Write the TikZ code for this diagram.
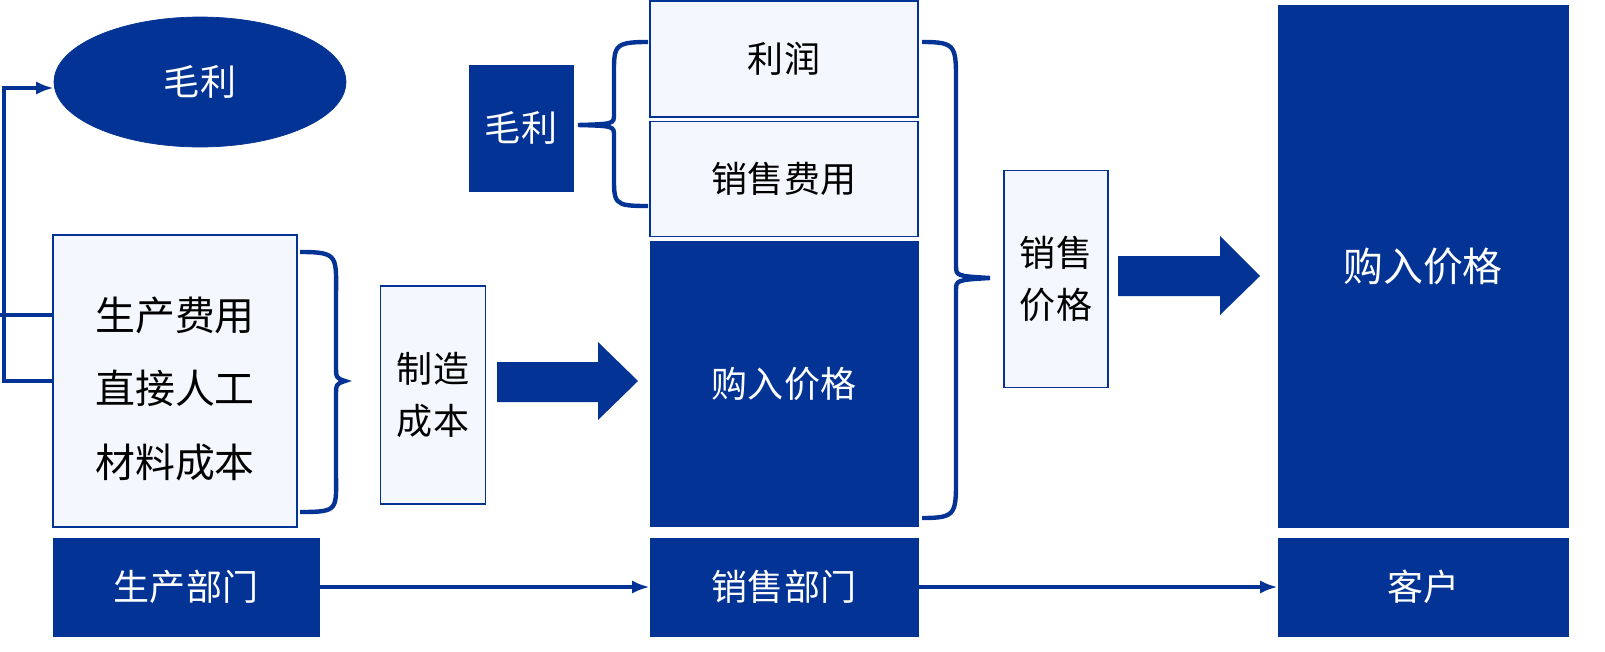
\documentclass[tikz,border=0pt]{standalone}
\usepackage{fontspec}
\setmainfont{Noto Sans CJK SC}
\usetikzlibrary{shapes.geometric,arrows.meta}
\definecolor{db}{HTML}{023395}
\definecolor{lb}{HTML}{F4F7FD}
\begin{document}
\begin{tikzpicture}[x=0.02cm,y=-0.02cm,
 dark/.style={fill=db,draw=db,text=white,inner sep=0pt,font=\fontsize{20.5}{24}\selectfont},
 light/.style={fill=lb,draw=db,line width=1pt,inner sep=0pt,text=black,font=\fontsize{20.5}{24}\selectfont},
 big/.style={font=\fontsize{22.7}{26}\selectfont},
 br/.style={draw=db,line width=2.5pt},
 ln/.style={draw=db,line width=2pt},
 fat/.style={fill=db}]
\useasboundingbox (0,0) rectangle (1605,652);
\node[dark,ellipse,minimum width=5.84cm,minimum height=2.6cm] (gm) at (200,82) {毛利};
\node[light,minimum width=4.88cm,minimum height=5.84cm] (pc) at (175,381) {};
\node[big] (t1) at (175,315) {生产费用};
\node[big] (t2) at (175,388) {直接人工};
\node[big] (t3) at (175,462) {材料成本};
\node[light,minimum width=2.1cm,minimum height=4.36cm,align=center,font=\fontsize{20.5}{30}\selectfont] (zz) at (433,395) {制造\\成本};
\node[dark,minimum width=5.36cm,minimum height=5.7cm] (gr1) at (784,384) {购入价格};
\node[light,minimum width=5.36cm,minimum height=2.32cm] (lr) at (784,59) {利润};
\node[light,minimum width=5.36cm,minimum height=2.3cm] (xs) at (784,179) {销售费用};
\node[dark,minimum width=2.08cm,minimum height=2.52cm] (gm2) at (521,128) {毛利};
\node[light,minimum width=2.08cm,minimum height=4.34cm,align=center,font=\fontsize{20.5}{30}\selectfont] (xj) at (1056,279) {销售\\价格};
\node[dark,minimum width=5.8cm,minimum height=10.44cm,big] (gr2) at (1423,266) {购入价格};
\node[dark,minimum width=5.32cm,minimum height=1.96cm] (sc) at (186,587) {生产部门};
\node[dark,minimum width=5.36cm,minimum height=1.96cm] (xb) at (784,587) {销售部门};
\node[dark,minimum width=5.8cm,minimum height=1.96cm] (kh) at (1423,587) {客户};
% braces
\draw[br] (300,252) .. controls (340,252) and (336,256) .. (336,300) -- (336,365) .. controls (336,378) .. (345,381) .. controls (336,384) .. (336,397) -- (336,470) .. controls (336,510) and (340,512) .. (300,512);
\draw[br] (648,42) .. controls (612,42) and (614,46) .. (614,80) -- (614,114) .. controls (614,124) .. (578,125) .. controls (614,126) .. (614,136) -- (614,170) .. controls (614,204) and (612,206) .. (648,206);
\draw[br] (922,42) .. controls (958,42) and (956,46) .. (956,90) -- (956,265) .. controls (956,276) .. (990,278) .. controls (956,280) .. (956,291) -- (956,470) .. controls (956,514) and (958,518) .. (922,518);
% fat arrows
\fill[fat] (497,362) -- (598,362) -- (598,342) -- (638,381) -- (598,420) -- (598,402) -- (497,402) -- cycle;
\fill[fat] (1118,256) -- (1220,256) -- (1220,236) -- (1260,276) -- (1220,315) -- (1220,296) -- (1118,296) -- cycle;
% connectors
\draw[ln,-{Latex[length=10pt]}] (sc.east) -- (xb.west);
\draw[ln,-{Latex[length=10pt]}] (xb.east) -- (kh.west);
\coordinate (c0) at (0,315);
\coordinate (c1) at (4,381);
\coordinate (c2) at (4,88);
\draw[ln] (c0) -- (pc.west |- c0);
\draw[ln,-{Latex[length=10pt]}] (pc.west |- c1) -- (c1) -- (c2) -- (gm.west |- c2);
\end{tikzpicture}
\end{document}
